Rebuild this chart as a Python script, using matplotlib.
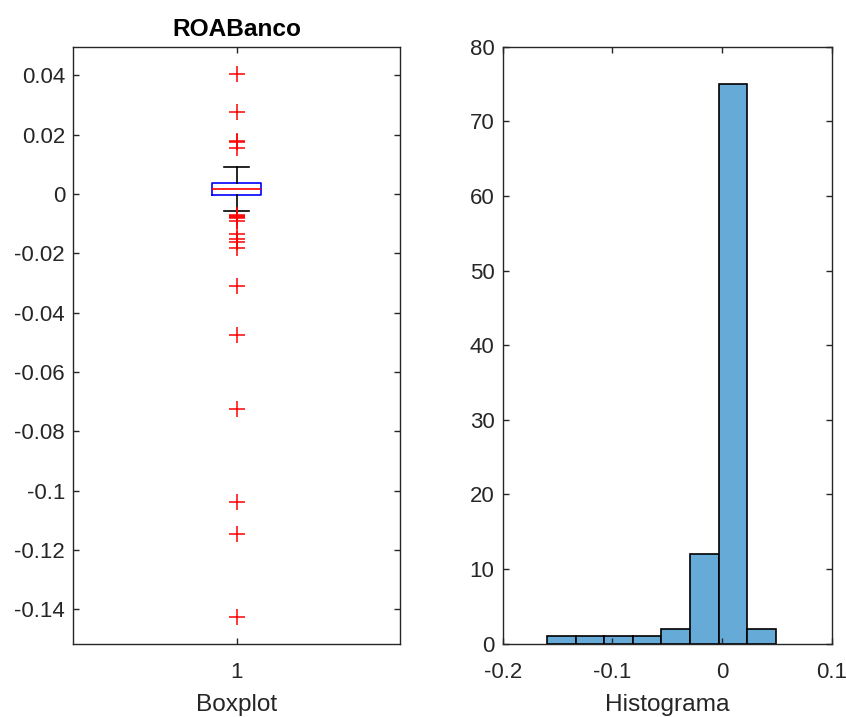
import numpy as np
import matplotlib
matplotlib.use('Agg')
import matplotlib.pyplot as plt
from matplotlib.ticker import MultipleLocator, FormatStrFormatter

# ROABanco boxplot summary
roa_median = 0.0017
roa_q1 = -0.0002
roa_q3 = 0.0038
roa_whislo = -0.0056
roa_whishi = 0.0092
roa_outliers = [0.0405, 0.0277, 0.0178, 0.0174, 0.0154,
                -0.0070, -0.0074, -0.0078, -0.0082, -0.0090,
                -0.0136, -0.0150, -0.0163, -0.0182,
                -0.0310, -0.0476, -0.0724, -0.1039, -0.1147, -0.1424]

# histogram of ROABanco
bin_edges = [-0.1596, -0.1335, -0.1074, -0.0813, -0.0552, -0.0291, -0.0030, 0.0231, 0.0492]
bin_counts = [1, 1, 1, 1, 2, 12, 75, 2]

txt = '#262626'
plt.rcParams['font.family'] = ['Liberation Sans', 'DejaVu Sans']
plt.rcParams['axes.unicode_minus'] = False
plt.rcParams['text.color'] = txt
plt.rcParams['axes.labelcolor'] = txt
plt.rcParams['xtick.color'] = txt
plt.rcParams['ytick.color'] = txt

fig = plt.figure(figsize=(8.46, 7.17), dpi=100)
ax1 = fig.add_axes([0.0867, 0.1022, 0.3862, 0.8326])
ax2 = fig.add_axes([0.5942, 0.1022, 0.3889, 0.8326])

# boxplot
stats = [{'med': roa_median, 'q1': roa_q1, 'q3': roa_q3,
          'whislo': roa_whislo, 'whishi': roa_whishi,
          'fliers': roa_outliers, 'label': '1'}]
ax1.bxp(stats, positions=[1], widths=0.15,
        boxprops=dict(color='#0000FF', linewidth=1.2),
        medianprops=dict(color='#FF0000', linewidth=1.2),
        whiskerprops=dict(color='k', linewidth=1.2),
        capprops=dict(color='k', linewidth=1.2),
        capwidths=0.075,
        flierprops=dict(marker='+', markeredgecolor='#FF0000', markersize=11,
                        markeredgewidth=1.1, linestyle='none'))
lo, hi = min(roa_outliers), max(roa_outliers)
pad = 0.05 * (hi - lo)
ax1.set_ylim(lo - pad, hi + pad)
ax1.set_xlim(0.5, 1.5)
ax1.yaxis.set_major_locator(MultipleLocator(0.02))
ax1.yaxis.set_major_formatter(FormatStrFormatter('%g'))
ax1.set_title('ROABanco', fontsize=17.6, fontweight='bold', color='k', pad=8)
ax1.set_xlabel('Boxplot', fontsize=17.6, labelpad=7.5)

# histogram
ax2.bar(bin_edges[:-1], bin_counts, width=np.diff(bin_edges), align='edge',
        color='#66AAD7', edgecolor='k', linewidth=1.2)
ax2.set_xlim(-0.2, 0.1)
ax2.set_ylim(0, 80)
ax2.xaxis.set_major_locator(MultipleLocator(0.1))
ax2.xaxis.set_major_formatter(FormatStrFormatter('%g'))
ax2.yaxis.set_major_locator(MultipleLocator(10))
ax2.set_xlabel('Histograma', fontsize=17.6, labelpad=7.5)

for ax in (ax1, ax2):
    for s in ax.spines.values():
        s.set_color(txt)
        s.set_linewidth(1.0)
    ax.tick_params(direction='in', length=4.5, width=1.0, labelsize=16,
                   top=True, right=True)
    ax.tick_params(axis='y', pad=6)
    ax.tick_params(axis='x', pad=13.5)

fig.savefig('out.png', dpi=100)
